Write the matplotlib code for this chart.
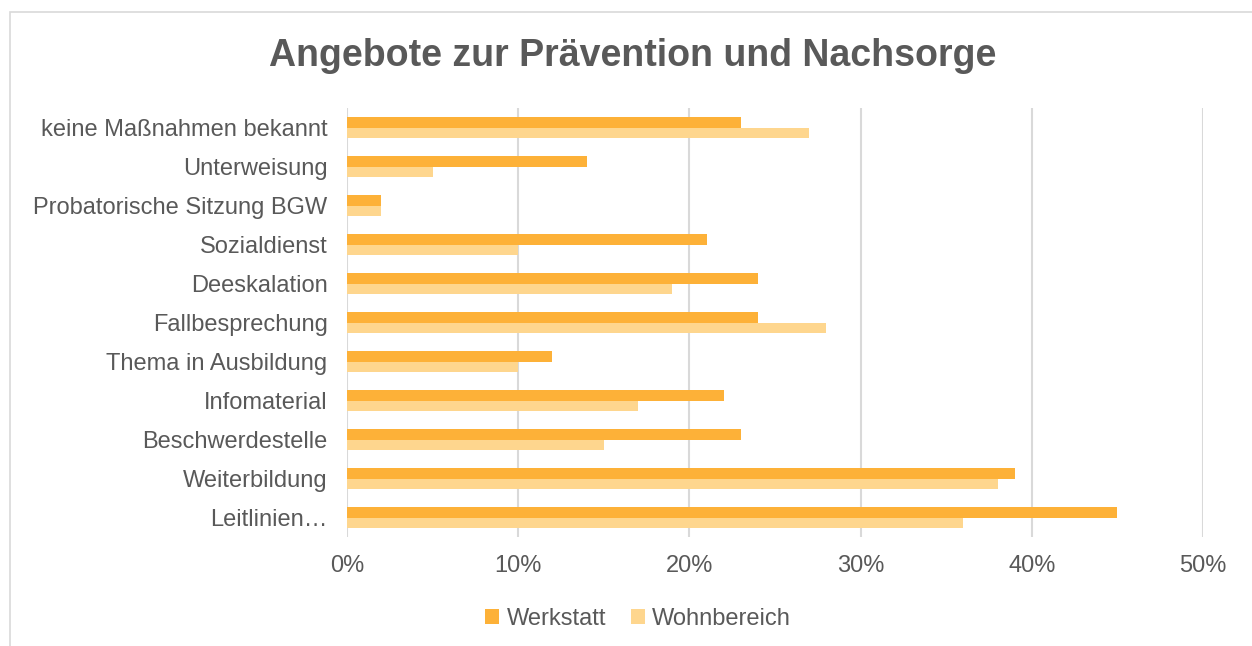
import numpy as np
import matplotlib.pyplot as plt
from matplotlib.patches import Rectangle

# Daten (von unten nach oben)
kategorien = ['Leitlinien…', 'Weiterbildung', 'Beschwerdestelle', 'Infomaterial',
              'Thema in Ausbildung', 'Fallbesprechung', 'Deeskalation', 'Sozialdienst',
              'Probatorische Sitzung BGW', 'Unterweisung', 'keine Maßnahmen bekannt']
werkstatt = [45, 39, 23, 22, 12, 24, 24, 21, 2, 14, 23]
wohnbereich = [36, 38, 15, 17, 10, 28, 19, 10, 2, 5, 27]
xticks = [0, 10, 20, 30, 40, 50]

plt.rcParams['font.family'] = ['Liberation Sans', 'DejaVu Sans']
grau = '#595959'

fig = plt.figure(figsize=(12.52, 6.46), dpi=100)
fig.patches.append(Rectangle((10 / 1252, -0.1), 1.1, 1 - 12 / 646 + 0.1,
                             transform=fig.transFigure, fill=False,
                             edgecolor='#D9D9D9', linewidth=1.2))
ax = fig.add_axes([347 / 1252, 1 - 537 / 646, (1203 - 347) / 1252, (537 - 108) / 646])

y = np.arange(len(kategorien))
h = 0.26
ax.barh(y + h / 2, werkstatt, height=h, color='#FDB138', label='Werkstatt', zorder=3)
ax.barh(y - h / 2, wohnbereich, height=h, color='#FED68E', label='Wohnbereich', zorder=3)

ax.set_xlim(0, 50)
ax.set_ylim(-0.5, len(kategorien) - 0.5)
ax.set_xticks(xticks)
ax.set_xticklabels([f'{v}%' for v in xticks], fontsize=17, color=grau)
ax.set_yticks(y)
ax.set_yticklabels(kategorien, fontsize=17, color=grau)
ax.tick_params(length=0)
ax.tick_params(axis='x', pad=13)
ax.tick_params(axis='y', pad=14)
ax.grid(axis='x', color='#D9D9D9', linewidth=1.5, zorder=0)
for s in ax.spines.values():
    s.set_visible(False)

fig.text(633 / 1252, 1 - 56 / 646, 'Angebote zur Prävention und Nachsorge',
         ha='center', va='center', fontsize=27, fontweight='bold', color=grau)

leg = fig.legend(loc='center', bbox_to_anchor=(638 / 1252, 1 - 619 / 646), ncol=2,
                 frameon=False, fontsize=17, handlelength=0.6, handleheight=0.6,
                 columnspacing=1.05, handletextpad=0.3)
for t in leg.get_texts():
    t.set_color(grau)

fig.savefig('out.png', dpi=100)
